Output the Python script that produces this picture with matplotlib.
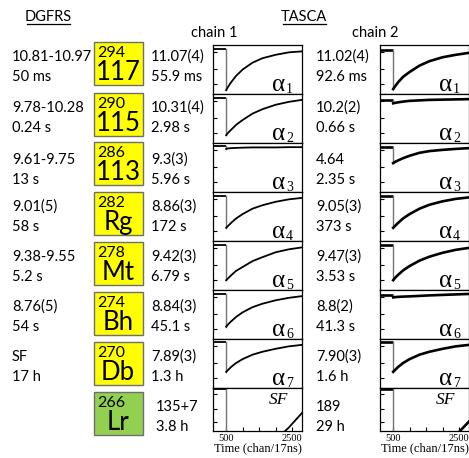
import matplotlib
matplotlib.use("Agg")
import matplotlib.pyplot as plt
from matplotlib.patches import Rectangle
from matplotlib.lines import Line2D

plt.rcParams["font.family"] = ["Lato", "DejaVu Sans"]

W, H = 469, 458

# isotopes of the decay chain
masses = ["294", "290", "286", "282", "278", "274", "270", "266"]
symbols = ["117", "115", "113", "Rg", "Mt", "Bh", "Db", "Lr"]
box_colors = ["#ffff00"] * 7 + ["#92d050"]

# DGFRS column
dgfrs_energy = ["10.81-10.97", "9.78-10.28", "9.61-9.75", "9.01(5)", "9.38-9.55", "8.76(5)", "SF", ""]
dgfrs_time = ["50 ms", "0.24 s", "13 s", "58 s", "5.2 s", "54 s", "17 h", ""]

# TASCA chains
chain1_energy = ["11.07(4)", "10.31(4)", "9.3(3)", "8.86(3)", "9.42(3)", "8.84(3)", "7.89(3)", "135+7"]
chain1_time = ["55.9 ms", "2.98 s", "5.96 s", "172 s", "6.79 s", "45.1 s", "1.3 h", "3.8 h"]
chain2_energy = ["11.02(4)", "10.2(2)", "4.64", "9.05(3)", "9.47(3)", "8.8(2)", "7.90(3)", "189"]
chain2_time = ["92.6 ms", "0.66 s", "2.35 s", "373 s", "3.53 s", "41.3 s", "1.6 h", "29 h"]

decay_index = ["1", "2", "3", "4", "5", "6", "7"]

# preamp traces, read at these channels (relative signal height in panel)
trace_chan = [100, 500, 500, 560, 650, 800, 1000, 1300, 1600, 2000, 2400, 2800]
chain1_traces = [
    [0.92, 0.92, 0.08, 0.15, 0.24, 0.37, 0.50, 0.64, 0.73, 0.80, 0.85, 0.87],
    [0.92, 0.92, 0.16, 0.21, 0.27, 0.37, 0.47, 0.60, 0.69, 0.78, 0.84, 0.88],
    [0.94, 0.94, 0.88, 0.89, 0.895, 0.90, 0.905, 0.91, 0.91, 0.91, 0.915, 0.915],
    [0.92, 0.92, 0.27, 0.31, 0.37, 0.46, 0.55, 0.66, 0.73, 0.80, 0.85, 0.88],
    [0.92, 0.92, 0.20, 0.24, 0.30, 0.39, 0.47, 0.59, 0.67, 0.77, 0.83, 0.87],
    [0.92, 0.92, 0.25, 0.30, 0.36, 0.45, 0.545, 0.65, 0.72, 0.79, 0.84, 0.875],
    [0.93, 0.93, 0.33, 0.37, 0.43, 0.51, 0.59, 0.68, 0.74, 0.80, 0.85, 0.88],
    [0.97, 0.97, -1.0, -0.9, -0.85, -0.75, -0.65, -0.5, -0.38, -0.2, 0.08, 0.42],
]
chain2_traces = [
    [0.90, 0.90, 0.10, 0.16, 0.24, 0.35, 0.45, 0.58, 0.67, 0.75, 0.80, 0.84],
    [0.88, 0.88, 0.81, 0.82, 0.83, 0.845, 0.86, 0.87, 0.88, 0.885, 0.89, 0.895],
    [0.92, 0.92, 0.59, 0.615, 0.645, 0.69, 0.74, 0.80, 0.835, 0.86, 0.88, 0.895],
    [0.92, 0.92, 0.27, 0.31, 0.37, 0.46, 0.55, 0.66, 0.74, 0.81, 0.86, 0.89],
    [0.92, 0.92, 0.20, 0.25, 0.31, 0.40, 0.49, 0.60, 0.68, 0.76, 0.82, 0.86],
    [0.90, 0.90, 0.85, 0.855, 0.86, 0.865, 0.87, 0.88, 0.89, 0.90, 0.91, 0.92],
    [0.93, 0.93, 0.33, 0.37, 0.43, 0.51, 0.59, 0.68, 0.74, 0.80, 0.85, 0.88],
    [0.97, 0.97, -1.0, -0.95, -0.9, -0.85, -0.8, -0.7, -0.6, -0.4, -0.1, 0.22],
]

fig = plt.figure(figsize=(W / 100, H / 100), dpi=100)


def ftext(x, y, s, **kw):
    return fig.text(x / W, 1 - y / H, s, **kw)


def fline(x0, x1, y0, y1, **kw):
    fig.add_artist(Line2D([x0 / W, x1 / W], [1 - y0 / H, 1 - y1 / H], transform=fig.transFigure, **kw))


# headers
ftext(48, 17, "DGFRS", ha="center", va="center", fontsize=10.5)
fline(27, 70, 24, 24, color="black", lw=0.9)
ftext(304, 17, "TASCA", ha="center", va="center", fontsize=10.5)
fline(283, 326, 24, 24, color="black", lw=0.9)
ftext(214, 33, "chain 1", ha="center", va="center", fontsize=10.5)
ftext(375, 33, "chain 2", ha="center", va="center", fontsize=10.5)

box_tops = [42, 93, 142, 192, 242, 292, 342, 392]
panel_tops = [45, 94, 143, 192, 241, 290, 339, 388]
panel_bottom = 431
fs = 10.5
serif = "Liberation Serif"

for i in range(8):
    bt = box_tops[i]
    shift = 3 if i == 2 else 0
    # element box
    fig.add_artist(Rectangle((94 / W, 1 - (bt + 43) / H), 49 / W, 43 / H, transform=fig.transFigure,
                             facecolor=box_colors[i], edgecolor="#6f6f6f", lw=1))
    ftext(97, bt + 15, masses[i], ha="left", va="baseline", fontsize=11.5)
    ftext(118, bt + 38, symbols[i], ha="center", va="baseline", fontsize=18.5)

    y1, y2 = bt + 19 + shift, bt + 39 + shift
    ftext(12, y1, dgfrs_energy[i], va="baseline", fontsize=fs)
    ftext(12, y2, dgfrs_time[i], va="baseline", fontsize=fs)
    x1 = 156 if i == 7 else 151
    ftext(x1, y1, chain1_energy[i], va="baseline", fontsize=fs)
    ftext(x1, y2, chain1_time[i], va="baseline", fontsize=fs)
    ftext(316, y1, chain2_energy[i], va="baseline", fontsize=fs)
    ftext(316, y2, chain2_time[i], va="baseline", fontsize=fs)

    # trace panels
    top = panel_tops[i]
    bot = panel_tops[i + 1] if i < 7 else panel_bottom
    for x0, traces, lw in [(213, chain1_traces, 1.3), (380, chain2_traces, 1.9)]:
        ax = fig.add_axes([x0 / W, 1 - bot / H, 89 / W, (bot - top) / H])
        tr = traces[i]
        ax.plot(trace_chan[:2], tr[:2], color="black", lw=lw, solid_capstyle="butt")
        ax.plot(trace_chan[1:3], tr[1:3], color="0.45", lw=1.0)
        ax.plot(trace_chan[2:], tr[2:], color="black", lw=lw)
        ax.set_xlim(100, 2800)
        ax.set_ylim(0, 1)
        for sp in ax.spines.values():
            sp.set_linewidth(0.9)
            sp.set_color("black")
        ax.set_yticks([0.2, 0.52, 0.85])
        ax.set_yticklabels([])
        ax.tick_params(axis="y", direction="in", length=3, width=0.8)
        if i < 7:
            ax.set_xticks([])
            ax.text(0.81, 0.07, "\u03b1", transform=ax.transAxes, ha="right", va="baseline",
                    fontsize=18, family=serif)
            ax.text(0.82, 0.02, decay_index[i], transform=ax.transAxes, ha="left", va="baseline",
                    fontsize=10, family=serif)
        else:
            ax.text(0.85, 0.62, "SF", transform=ax.transAxes, ha="right", va="baseline",
                    fontsize=12.5, family=serif, style="italic")
            ax.set_xticks([500, 2500])
            ax.set_xticks([1000, 1500, 2000], minor=True)
            ax.set_xticklabels(["500", "2500"], family=serif, fontsize=7.5)
            ax.tick_params(axis="x", which="both", direction="in", length=3, width=0.8, pad=2)
            ax.set_xlabel("Time (chan/17ns)", family=serif, fontsize=9, labelpad=0)

fig.savefig("out.png", dpi=100)
